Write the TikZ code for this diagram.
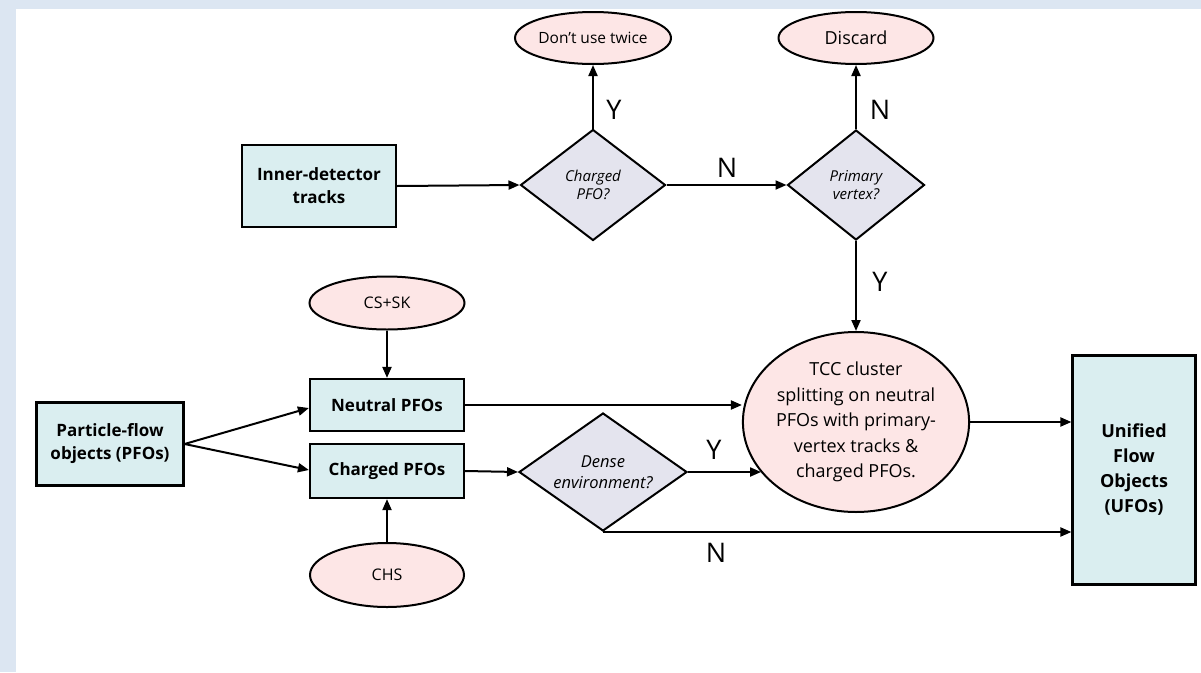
\documentclass[tikz,border=0pt]{standalone}
\usepackage{fontspec}
\setmainfont{Open Sans}
\usetikzlibrary{shapes.geometric,arrows.meta}
\definecolor{bgblue}{RGB}{220,230,242}
\definecolor{boxfill}{RGB}{218,238,240}
\definecolor{ellfill}{RGB}{253,230,230}
\definecolor{diafill}{RGB}{228,228,238}
\tikzset{
  x=1pt,y=-1pt,
  procbox/.style={draw=black,line width=2.2pt,fill=boxfill,align=center,inner sep=2pt,font=\fontsize{17}{23}\selectfont\bfseries},
  termell/.style={ellipse,draw=black,line width=2pt,fill=ellfill,align=center,inner sep=0pt,font=\fontsize{15.5}{19}\selectfont},
  decdia/.style={diamond,draw=black,line width=2pt,fill=diafill,align=center,inner sep=0pt,font=\fontsize{15}{18}\selectfont\itshape},
  conn/.style={line width=2pt,-{Triangle[length=11pt,width=9pt]}},
  yn/.style={font=\fontsize{27}{30}\selectfont,inner sep=0pt}
}
\begin{document}
\begin{tikzpicture}
\fill[bgblue] (0,0) rectangle (1201,672);
\fill[white] (16,9) rectangle (1201,672);
\useasboundingbox (0,0) rectangle (1201,672);

\node[procbox,minimum width=154pt,minimum height=82pt] (inner) at (319,186) {Inner-detector\\tracks};
\node[decdia,minimum width=145pt,minimum height=111pt] (cpfo) at (593,185) {Charged\\PFO?};
\node[termell,minimum width=156pt,minimum height=52pt] (dont) at (593,38) {Don’t use twice};
\node[termell,minimum width=155pt,minimum height=52pt,font=\fontsize{18}{22}\selectfont] (disc) at (856,38) {Discard};
\node[decdia,minimum width=137pt,minimum height=110pt] (pv) at (856,185) {Primary\\vertex?};

\node[termell,minimum width=155pt,minimum height=53pt,font=\fontsize{16}{20}\selectfont] (cssk) at (387,303) {CS+SK};
\node[procbox,minimum width=154pt,minimum height=52pt] (neut) at (387,405) {Neutral PFOs};
\node[procbox,minimum width=154pt,minimum height=54pt] (chg) at (387,471) {Charged PFOs};
\node[termell,minimum width=154pt,minimum height=64pt,font=\fontsize{16}{20}\selectfont] (chs) at (387,575) {CHS};
\node[procbox,minimum width=147pt,minimum height=83pt] (pfo) at (110,444) {Particle-flow\\objects (PFOs)};

\node[decdia,aspect=1.42,minimum width=168pt,minimum height=118pt,font=\fontsize{16.5}{21}\selectfont\itshape] (dense) at (603,472) {Dense\\environment?};
\node[termell,minimum width=221pt,minimum height=180pt,font=\fontsize{18}{25.5}\selectfont] (tcc) at (856,422) {TCC cluster\\splitting on neutral\\PFOs with primary-\\vertex tracks \&\\charged PFOs.};
\node[procbox,minimum width=123pt,minimum height=229pt,font=\fontsize{18}{25}\selectfont\bfseries] (ufo) at (1134,470) {Unified\\Flow\\Objects\\(UFOs)};

\draw[conn] (inner.east) -- (cpfo.west);
\draw[conn] (cpfo.north) -- (dont.south);
\draw[conn] (cpfo.east) -- (pv.west);
\draw[conn] (pv.north) -- (disc.south);
\draw[conn] (pv.south) -- (tcc.north);
\draw[conn] (cssk.south) -- (neut.north);
\draw[conn] (chs.north) -- (chg.south);
\draw[conn] (pfo.east) -- ([yshift=-3pt]neut.west);
\draw[conn] (pfo.east) -- ([yshift=1pt]chg.west);
\draw[conn] (neut.east) -- (neut.east -| tcc.west);
\draw[conn] (chg.east) -- (dense.west);
\draw[conn] (dense.east) -- (dense.east -| tcc.208.5);
\draw[conn] (tcc.east) -- (tcc.east -| ufo.west);
\draw[conn] (dense.south) -- (dense.south -| ufo.west);

\node[yn] (ly1) at (614,110) {Y};
\node[yn] (ln1) at (727,168) {N};
\node[yn] (ln2) at (880,110) {N};
\node[yn] (ly2) at (880,282) {Y};
\node[yn] (ly3) at (714,450) {Y};
\node[yn] (ln3) at (716,553) {N};
\end{tikzpicture}
\end{document}
